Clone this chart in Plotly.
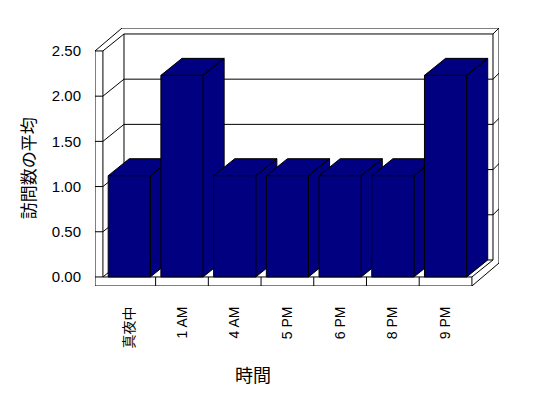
import plotly.graph_objects as go

# ---- data ----
categories = ["真夜中", "1 AM", "4 AM", "5 PM", "6 PM", "8 PM", "9 PM"]
values = [1.12, 2.23, 1.12, 1.12, 1.12, 1.12, 2.23]
y_tickvals = [0, 0.5, 1.0, 1.5, 2.0, 2.5]
y_ticktext = ["0.00", "0.50", "1.00", "1.50", "2.00", "2.50"]
x_title = "時間"
y_title = "訪問数の平均"

# ---- style / 3D geometry (axis units) ----
BAR_COLOR = "#000080"
FONT = "Liberation Sans, Arial, Noto Sans CJK JP, sans-serif"
DX, DY = 0.40, 0.188     # depth offset of the oblique projection
TX, TY = 0.114, 0.066    # back wall thickness
WALL = 0.15              # left wall thickness
FLOOR = 0.10             # floor thickness
BAR_W = 0.8
YMAX = y_tickvals[-1]

idx = list(range(len(categories)))
L = -0.5
R = len(categories) - 0.5
Lo = L - WALL
x_range = [Lo, R + DX + TX]
y_range = [-FLOOR, YMAX + DY + TY]

fig = go.Figure()

# ---- box frame (walls, floor, gridlines) ----
segs = []
def seg(*pts):
    segs.append(pts)

seg((Lo, -FLOOR), (Lo, YMAX), (L, YMAX), (L, 0))
seg((Lo, -FLOOR), (R, -FLOOR), (R, 0), (Lo, 0))
seg((Lo, YMAX), (Lo + DX + TX, YMAX + DY + TY), (R + DX + TX, YMAX + DY + TY),
    (R + DX + TX, -FLOOR + DY + TY), (R, -FLOOR))
seg((L, YMAX), (L + DX, YMAX + DY), (R + DX, YMAX + DY), (R + DX, DY),
    (L + DX, DY), (L + DX, YMAX + DY))
seg((R + DX, YMAX + DY), (R + DX + TX, YMAX + DY + TY))
seg((R, 0), (R + DX, DY))
seg((L, 0), (L + DX, DY))
for v in y_tickvals[1:-1]:
    seg((Lo, v), (L, v), (L + DX, v + DY), (R + DX, v + DY), (R + DX + TX, v + DY + TY))
for k in idx[:-1]:
    seg((k + 0.5, -FLOOR), (k + 0.5, 0))

fx, fy = [], []
for s in segs:
    for p in s:
        fx.append(p[0]); fy.append(p[1])
    fx.append(None); fy.append(None)

fig.add_trace(go.Scatter(x=fx, y=fy, mode="lines", line=dict(color="black", width=1),
                         hoverinfo="skip", showlegend=False))

# ---- bar top and side faces ----
for i, v in zip(idx, values):
    xl = i - BAR_W / 2
    xh = i + BAR_W / 2
    px = [xl, xh, xh + DX, xl + DX, xl, None, xh, xh + DX, xh + DX, xh, xh]
    py = [v, v, v + DY, v + DY, v, None, 0, DY, v + DY, v, 0]
    fig.add_trace(go.Scatter(x=px, y=py, mode="lines", fill="toself",
                             fillcolor=BAR_COLOR, line=dict(color="black", width=1),
                             hoverinfo="skip", showlegend=False))

# ---- bar front faces ----
fig.add_trace(go.Bar(x=idx, y=values, width=BAR_W, xaxis="x2", yaxis="y2",
                     marker=dict(color=BAR_COLOR, line=dict(color="black", width=1)),
                     showlegend=False))

fig.update_layout(
    width=548, height=398,
    margin=dict(l=95, r=49, t=28, b=112),
    paper_bgcolor="white", plot_bgcolor="white",
    font=dict(family=FONT, color="black"),
    showlegend=False,
    xaxis=dict(range=x_range, tickmode="array", tickvals=idx, ticktext=categories,
               tickangle=-90, showgrid=False, zeroline=False, showline=False,
               ticks="outside", ticklen=14, tickcolor="rgba(0,0,0,0)",
               tickfont=dict(size=14, family=FONT), automargin=False, fixedrange=True),
    yaxis=dict(range=y_range, tickmode="array", tickvals=y_tickvals, ticktext=y_ticktext,
               showgrid=False, zeroline=False, showline=False,
               ticks="outside", ticklen=10, tickcolor="rgba(0,0,0,0)",
               tickfont=dict(size=15, family=FONT), automargin=False, fixedrange=True),
    xaxis2=dict(overlaying="x", range=x_range, visible=False, fixedrange=True),
    yaxis2=dict(overlaying="y", range=y_range, visible=False, fixedrange=True),
    annotations=[
        dict(text=x_title, xref="paper", yref="paper", x=0.39, y=-0.349,
             xanchor="center", yanchor="middle",
             showarrow=False, font=dict(size=18, family=FONT)),
        dict(text=y_title, xref="paper", yref="paper", x=-0.163, y=0.457,
             xanchor="center", yanchor="middle",
             showarrow=False, textangle=-90, font=dict(size=17, family=FONT)),
    ],
)

fig.write_html("out.html")
